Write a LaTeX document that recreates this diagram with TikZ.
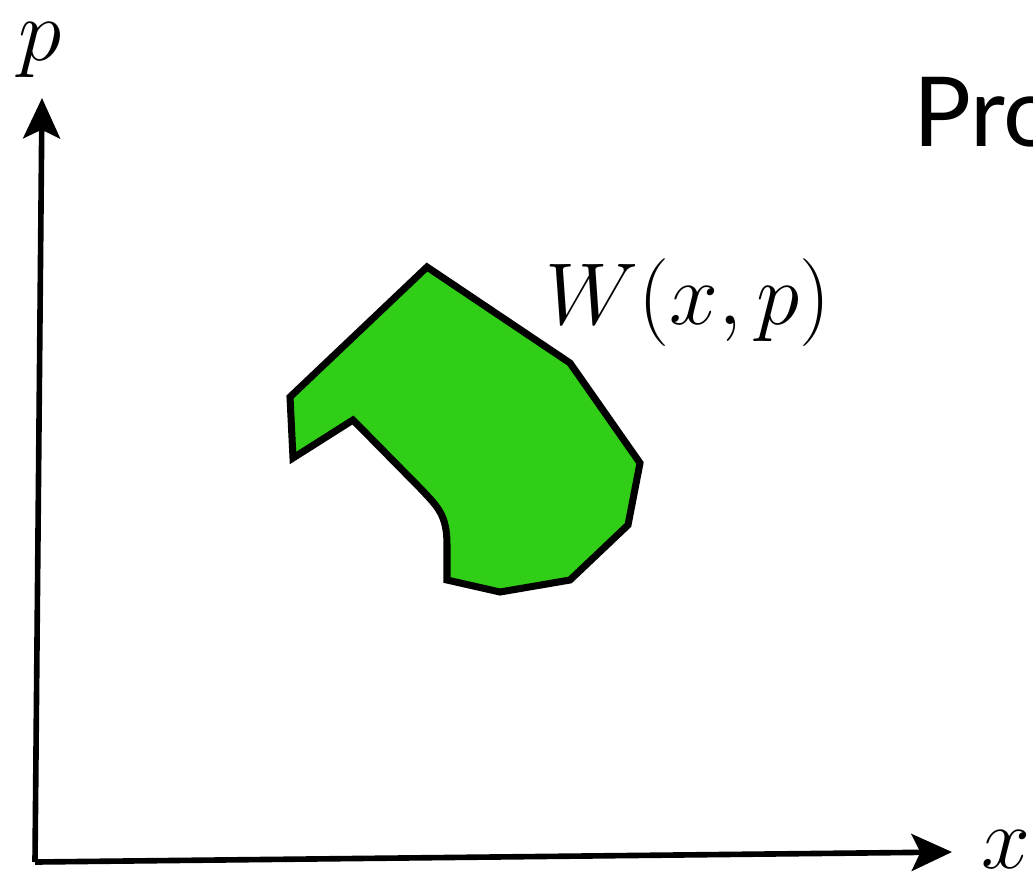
\RequirePackage{fix-cm}
\documentclass[tikz,border=0pt]{standalone}
\usepackage{fontspec}
\newfontfamily\titlefont{Lato}
\usepackage{tikz}
\usetikzlibrary{arrows.meta}

\definecolor{blobgreen}{RGB}{48,206,22}

\begin{document}
\begin{tikzpicture}[
    x=0.02cm, y=-0.02cm,
    >={Stealth[length=23pt, width=21pt, inset=5pt]},
    axis/.style={->, line width=3.2pt},
    blob/.style={fill=blobgreen, draw=black, line width=4pt, line join=miter},
    lbl/.style={font=\fontsize{50}{60}\selectfont, inner sep=0pt}
]
\useasboundingbox (0,0) rectangle (1033,876);
% axes
\coordinate (origin) at (35,862);
\coordinate (ptip) at (42,98);
\coordinate (xtip) at (952,852);
\draw[axis] (origin) -- (ptip);
\draw[axis] (origin) -- (xtip);
\node[lbl] (plabel) at (40,50) {$p$};
\node[lbl] (xlabel) at (1006,850) {$x$};
% the distribution
\draw[blob] (427,267) -- (570,363) -- (640,463) -- (628,525) -- (570,580)
    -- (500,592) -- (447,580) -- (447,545)
    .. controls (447,515) and (438,507) .. (420,488)
    -- (353,420) -- (293,458) -- (290,397) -- cycle;
\node[lbl] (wlabel) at (688,303) {$W(x,p)$};
% title, cut off at the right edge
\node[anchor=base west, inner sep=0pt, font=\titlefont\fontsize{55}{60}\selectfont] (title) at (913,146) {Pro};
\end{tikzpicture}
\end{document}
